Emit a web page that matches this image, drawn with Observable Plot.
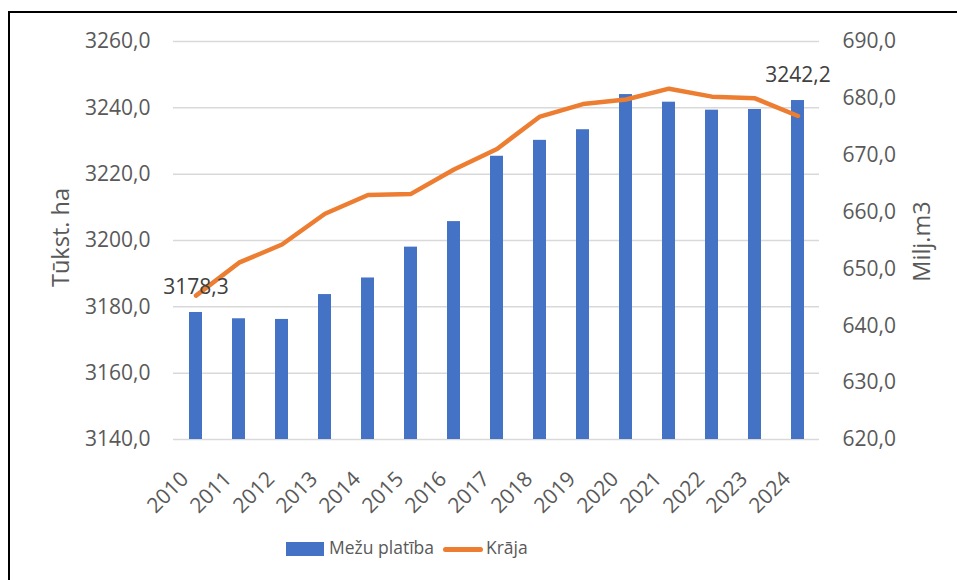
<!DOCTYPE html>
<html>
<head>
<meta charset="utf-8">
<script src="https://cdn.jsdelivr.net/npm/d3@7"></script>
<script src="https://cdn.jsdelivr.net/npm/@observablehq/plot@0.6"></script>
<style>
  body { margin: 0; background: #fff; font-family: "Open Sans", sans-serif; }
  #frame { position: absolute; left: 8px; top: 11px; width: 1100px; height: 800px; border: 2px solid #000; box-sizing: border-box; }
  #chart { position: absolute; left: 0; top: 0; }
  .leg { position: absolute; font-family: "Open Sans", sans-serif; font-size: 17.5px; color: #595959; line-height: 1; }
</style>
</head>
<body>
<div id="frame"></div>
<div id="chart"></div>
<div class="leg" id="sw1" style="left:286px; top:542px; width:38px; height:14px; background:#4472C4;"></div>
<div class="leg" id="lt1" style="left:329px; top:539px;">Mežu platība</div>
<div class="leg" id="sw2" style="left:443px; top:547px; width:40px; height:5px; border-radius:3px; background:#ED7D31;"></div>
<div class="leg" id="lt2" style="left:486px; top:539px;">Krāja</div>
<script>
// ---- data ----
const years = ["2010","2011","2012","2013","2014","2015","2016","2017","2018","2019","2020","2021","2022","2023","2024"];
const area  = [3178.3, 3176.4, 3176.2, 3183.7, 3188.7, 3198.0, 3205.7, 3225.4, 3230.2, 3233.4, 3244.0, 3241.7, 3239.3, 3239.5, 3242.2];
const stock = [645.3, 651.1, 654.3, 659.7, 663.0, 663.2, 667.5, 671.1, 676.8, 679.0, 679.8, 681.7, 680.3, 680.0, 676.9];
const leftTicks  = [3140, 3160, 3180, 3200, 3220, 3240, 3260];
const rightTicks = [620, 630, 640, 650, 660, 670, 680, 690];
const labelYears = ["2010", "2024"];
const leftTitle = "Tūkst. ha";
const rightTitle = "Milj.m3";

// ---- helpers ----
const L0 = leftTicks[0], L1 = leftTicks[leftTicks.length - 1];
const R0 = rightTicks[0], R1 = rightTicks[rightTicks.length - 1];
const toLeft = v => L0 + (v - R0) * (L1 - L0) / (R1 - R0);
const toRight = v => R0 + (v - L0) * (R1 - R0) / (L1 - L0);
const fmt = v => d3.format(".1f")(v).replace(".", ",");

const data = years.map((y, i) => ({year: y, area: area[i], stock: stock[i]}));

const fontSize = 21;
const plot = Plot.plot({
  width: 957,
  height: 520,
  marginLeft: 173,
  marginRight: 138,
  marginTop: 41,
  marginBottom: 81,
  style: {fontFamily: "'Open Sans', sans-serif", color: "#595959", background: "transparent"},
  x: {domain: years, paddingInner: 0.7, paddingOuter: 0.35},
  y: {domain: [L0, L1]},
  marks: [
    Plot.ruleY(leftTicks, {stroke: "#D9D9D9", strokeWidth: 1.5}),
    Plot.barY(data, {x: "year", y1: L0, y2: "area", fill: "#4472C4"}),
    Plot.line(data, {x: "year", y: d => toLeft(d.stock), stroke: "#ED7D31", strokeWidth: 4.5, strokeLinejoin: "round", strokeLinecap: "round"}),
    Plot.text(data.filter(d => labelYears.includes(d.year)), {x: "year", y: "area", text: d => fmt(d.area), dy: -25, fill: "#404040", fontSize}),
    Plot.axisY({ticks: leftTicks, tickFormat: fmt, tickSize: 0, tickPadding: 23, fontSize, label: null}),
    Plot.axisY({anchor: "right", ticks: rightTicks.map(toLeft), tickFormat: d => fmt(toRight(d)), tickSize: 0, tickPadding: 23, fontSize, label: null}),
    Plot.axisX({tickRotate: -45, tickSize: 0, tickPadding: 28, dx: -11, dy: 8, fontSize, label: null}),
    Plot.text([leftTitle], {frameAnchor: "left", textAnchor: "middle", dx: -112, dy: -3, rotate: -90, fontSize: 23.5, fill: "#595959"}),
    Plot.text([rightTitle], {frameAnchor: "right", textAnchor: "middle", dx: 103, dy: 1, rotate: -90, fontSize: 23.5, fill: "#595959"})
  ]
});
document.getElementById("chart").appendChild(plot);
</script>
</body>
</html>
